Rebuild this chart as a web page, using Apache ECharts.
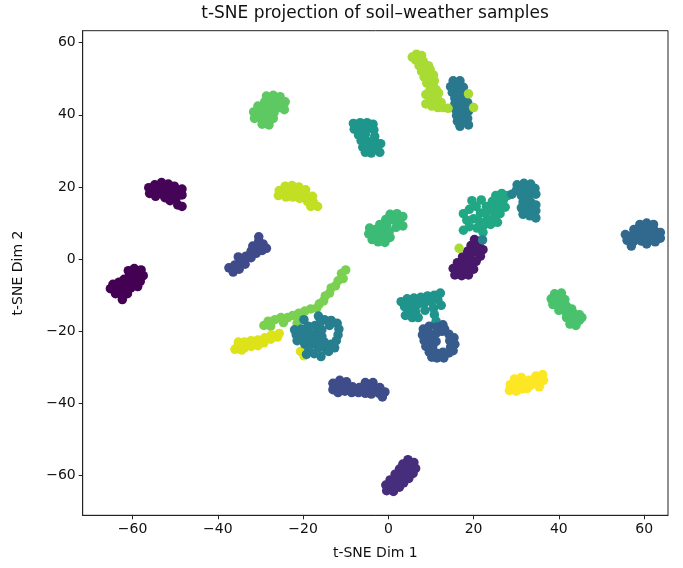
<!DOCTYPE html>
<html>
<head>
<meta charset="utf-8">
<script src="https://cdn.jsdelivr.net/npm/echarts@6/dist/echarts.min.js"></script>
<style>
  html, body { margin: 0; padding: 0; background: #fff; }
  #chart { width: 683px; height: 568px; }
</style>
</head>
<body>
<div id="chart"></div>
<script>
// Tick positions on both embedding axes
const xTicks = [-60, -40, -20, 0, 20, 40, 60];
const yTicks = [-60, -40, -20, 0, 20, 40, 60];

// Embedded sample coordinates, one list per group
const groupA = [[-58.0,-3.0],[-59.6,-2.6],[-61.0,-3.2],[-57.5,-4.6],[-59.2,-4.4],[-60.8,-4.8],[-62.0,-5.6],[-58.2,-6.2],[-59.8,-6.4],[-61.4,-6.8],[-63.2,-6.4],[-64.6,-7.0],[-65.2,-8.2],[-63.8,-8.2],[-62.2,-8.4],[-60.4,-8.0],[-58.8,-7.6],[-64.0,-9.6],[-62.6,-10.0],[-61.2,-9.6],[-62.4,-11.2],[-63.4,-8.8],[-60.0,-5.4]];
const groupB = [[-56.2,19.8],[-56.0,18.2],[-54.8,20.6],[-54.6,19.0],[-54.6,17.4],[-53.2,21.2],[-53.2,19.6],[-53.0,18.0],[-51.6,20.8],[-51.6,19.2],[-51.8,17.6],[-50.2,20.2],[-50.0,18.6],[-48.4,19.4],[-48.4,17.8],[-49.8,16.8],[-51.2,16.2],[-49.4,15.0],[-48.4,14.6],[-52.4,17.0]];
const groupC = [[-37.4,-2.4],[-36.4,-3.6],[-36.0,-1.6],[-35.0,-2.8],[-34.6,-0.6],[-35.2,0.6],[-33.6,-1.4],[-33.4,0.8],[-32.2,0.4],[-32.2,2.2],[-31.0,1.6],[-30.8,3.2],[-29.6,2.4],[-29.4,4.2],[-30.4,5.0],[-28.6,3.0],[-31.8,3.6],[-30.4,6.2]];
const groupD = [[-25.6,19.0],[-25.8,17.6],[-24.2,20.2],[-24.2,18.6],[-24.0,17.2],[-22.6,20.4],[-22.6,18.8],[-22.4,17.2],[-21.0,20.0],[-21.0,18.4],[-20.8,16.8],[-19.4,19.2],[-19.4,17.6],[-19.0,16.0],[-17.8,17.4],[-17.6,15.8],[-16.6,14.6],[-18.2,14.6]];
const groupE = [[-28.6,45.2],[-27.0,45.4],[-25.4,45.0],[-24.2,43.6],[-25.8,43.6],[-27.4,43.8],[-29.0,43.6],[-30.6,42.4],[-29.0,42.0],[-27.4,42.2],[-25.6,42.0],[-24.4,41.4],[-31.6,40.8],[-30.0,40.4],[-28.4,40.6],[-26.8,40.6],[-31.4,39.0],[-29.8,38.8],[-28.2,38.4],[-27.0,39.0],[-29.6,37.4],[-28.0,37.2]];
const groupF = [[-8.2,37.6],[-6.6,37.8],[-5.0,37.8],[-3.6,37.4],[-8.0,36.0],[-6.4,36.0],[-4.8,36.2],[-3.4,35.8],[-7.0,34.4],[-5.4,34.6],[-3.2,34.0],[-6.4,32.8],[-4.8,32.6],[-3.0,32.4],[-1.8,32.0],[-6.0,31.0],[-4.4,30.8],[-2.8,30.6],[-2.0,29.6],[-4.0,29.4],[-5.4,29.6]];
const groupG = [[0.4,12.4],[2.0,12.6],[3.4,11.8],[-0.6,11.0],[1.0,11.0],[2.6,10.4],[3.4,9.2],[-2.0,9.6],[-0.4,9.4],[1.8,8.8],[-4.4,8.6],[-3.0,8.2],[-1.4,7.8],[0.2,7.6],[-4.6,7.0],[-3.2,6.4],[-1.6,6.2],[0.4,6.0],[-2.4,4.8],[-0.8,4.6],[-3.8,5.4]];
const groupH = [[6.6,56.8],[7.8,56.4],[6.4,55.2],[8.2,54.8],[7.2,53.6],[8.6,53.0],[9.2,51.6],[8.4,50.4],[9.8,50.0],[9.0,48.8],[10.4,48.4],[9.8,47.0],[10.6,45.6],[9.8,44.0],[11.0,43.6],[10.2,42.4],[11.6,42.0],[12.8,42.0],[14.0,41.8],[11.4,44.8],
                [5.6,56.0],[7.4,55.0],[9.4,53.6],[9.8,52.6],[7.8,52.0],[10.6,51.0],[10.8,49.4],[11.2,47.0],[8.8,45.6],[11.8,46.0],[8.8,43.0],[12.4,43.4],
                [18.8,45.8],[20.0,42.0],[16.6,3.0]];
const groupI = [[15.2,49.4],[16.8,49.4],[14.6,47.8],[16.2,47.8],[17.6,47.6],[15.0,46.2],[16.8,46.2],[15.6,44.6],[17.4,44.6],[15.6,43.0],[17.2,43.0],[18.6,43.4],[15.8,41.4],[17.4,41.4],[18.8,41.0],[16.0,39.8],[17.6,39.8],[16.2,38.2],[17.8,38.0],[16.8,36.8],[18.6,39.0],[19.2,42.0],[18.8,37.2]];
const groupJ = [[17.6,12.6],[19.0,13.8],[20.6,14.6],[18.4,10.8],[20.0,11.2],[19.0,9.0],[20.8,8.6],[17.6,8.0],[21.6,12.8],[23.0,14.6],[24.4,16.0],[22.8,12.6],[24.4,13.6],[25.8,14.4],[23.2,10.8],[24.8,11.6],[26.2,12.6],[22.4,9.4],[24.0,9.6],[25.6,10.2],[27.0,16.4],[28.0,17.6],[26.6,18.2],[27.4,14.4],[21.4,10.4],[21.8,16.4],[19.6,16.2],[25.2,17.6],[22.2,7.4],[26.4,15.6]];
const groupK = [[30.2,20.6],[31.8,21.0],[33.4,20.8],[34.4,19.6],[30.0,19.0],[31.6,19.2],[33.2,19.0],[34.6,18.0],[31.2,17.6],[32.8,17.4],[31.6,15.8],[33.4,15.8],[34.6,15.0],[31.2,14.2],[32.8,14.0],[34.6,13.4],[31.6,12.4],[33.2,12.0],[34.6,11.4],[29.0,18.0],[22.1,5.3]];
const groupL = [[20.2,5.4],[21.6,5.0],[19.4,3.8],[21.0,3.6],[22.2,2.6],[18.6,2.2],[20.4,2.0],[21.6,0.8],[17.4,0.6],[19.2,0.4],[20.6,-0.6],[16.2,-1.0],[17.8,-1.2],[19.4,-1.4],[15.2,-2.6],[16.8,-2.8],[18.6,-3.0],[20.0,-2.8],[15.6,-4.4],[17.2,-4.6],[18.8,-4.4]];
const groupM = [[59.0,9.6],[60.6,10.0],[62.2,9.6],[57.6,8.2],[59.2,8.2],[60.8,8.4],[62.4,8.0],[63.8,7.4],[55.6,6.8],[57.2,6.6],[58.8,6.6],[60.4,6.6],[62.0,6.4],[63.8,5.8],[56.0,5.2],[57.6,5.0],[59.4,5.0],[61.0,5.0],[62.6,4.8],[57.0,3.6],[60.6,4.2]];
const groupN = [[39.0,-9.6],[40.6,-9.4],[38.2,-11.0],[39.8,-11.0],[41.4,-11.2],[38.6,-12.6],[40.2,-12.6],[41.8,-13.0],[43.0,-13.8],[40.0,-14.2],[41.6,-14.6],[43.4,-15.0],[44.8,-15.4],[41.8,-16.2],[43.2,-16.6],[44.8,-17.0],[42.6,-18.0],[44.0,-18.4],[45.4,-16.2]];
const groupO = [[4.4,-11.0],[6.0,-10.8],[7.6,-10.6],[9.2,-10.2],[10.8,-10.0],[12.2,-9.4],[11.6,-11.2],[10.0,-11.8],[8.4,-12.2],[6.8,-12.6],[5.2,-12.8],[3.8,-13.2],[4.8,-14.6],[6.4,-14.6],[4.0,-15.6],[5.6,-16.2],[7.0,-16.2],[10.6,-13.6],[10.8,-15.4],[11.2,-17.2],[12.4,-12.8],[8.6,-14.2],[3.0,-11.8]];
const groupP = [[8.2,-19.4],[9.6,-18.6],[11.4,-18.8],[13.2,-19.4],[8.0,-21.0],[9.6,-20.6],[11.2,-20.6],[14.2,-20.8],[8.4,-22.6],[10.0,-22.4],[14.4,-22.6],[8.8,-24.2],[10.4,-24.2],[14.6,-24.4],[9.6,-25.8],[11.2,-26.0],[12.8,-25.8],[14.2,-26.0],[11.4,-27.4],[13.0,-27.4],[11.2,-22.8],[12.8,-18.2],[12.6,-20.0],[10.2,-27.2],[9.8,-21.6],[15.4,-21.8],[15.6,-23.6],[15.2,-25.4]];
const groupQ = [[28.4,-36.4],[30.0,-36.6],[31.4,-36.0],[28.6,-34.8],[30.2,-34.8],[31.8,-34.4],[29.6,-33.2],[31.2,-32.8],[33.0,-33.6],[33.4,-35.0],[34.6,-32.4],[36.2,-32.0],[34.8,-34.0],[36.4,-33.6],[35.4,-35.4],[32.6,-35.8]];
const groupR = [[-13.0,-34.4],[-11.4,-33.6],[-11.6,-35.4],[-13.0,-36.2],[-10.0,-35.0],[-10.2,-36.6],[-11.8,-37.0],[-8.4,-35.4],[-8.6,-37.0],[-6.8,-35.6],[-7.0,-37.0],[-5.4,-34.2],[-5.2,-35.8],[-3.6,-34.2],[-3.6,-35.8],[-5.4,-37.2],[-2.0,-35.6],[-2.2,-37.2],[-0.8,-36.8],[-1.4,-38.2],[-9.8,-34.0],[-4.0,-37.4]];
const groupS = [[4.6,-55.6],[6.0,-56.4],[3.4,-56.8],[5.0,-57.4],[6.4,-58.0],[2.6,-58.2],[4.2,-58.8],[5.8,-59.4],[1.6,-59.6],[3.2,-60.2],[4.8,-60.8],[0.4,-61.2],[2.0,-61.6],[3.6,-62.0],[-0.6,-62.6],[1.0,-63.0],[2.6,-63.2],[-0.4,-64.2],[1.2,-64.4]];
const groupT = [[-10.0,-3.0],[-11.0,-4.0],[-10.6,-5.4],[-11.8,-6.0],[-12.4,-7.4],[-13.4,-8.0],[-13.8,-9.4],[-14.8,-10.2],[-15.2,-11.6],[-16.2,-12.4],[-16.8,-13.6],[-18.2,-13.8],[-19.6,-14.4],[-21.0,-15.0],[-20.6,-16.4],[-22.4,-15.6],[-23.6,-16.2],[-25.2,-16.2],[-24.6,-17.6],[-26.6,-16.8],[-28.2,-17.2],[-29.2,-18.4],[-27.6,-18.6],[-21.4,-17.8]];
const groupU = [[-35.4,-24.4],[-35.2,-23.0],[-33.8,-23.0],[-33.8,-24.6],[-32.2,-22.6],[-32.2,-24.2],[-30.6,-22.4],[-30.6,-24.0],[-29.2,-23.2],[-29.0,-21.8],[-27.6,-22.2],[-27.4,-21.0],[-26.0,-21.6],[-25.6,-20.6],[-36.0,-25.0],[-34.4,-25.2],[-20.6,-25.6],[-19.8,-26.8]];
const groupV = [[-16.4,-15.8],[-15.0,-16.8],[-13.4,-17.0],[-12.0,-17.8],[-11.6,-19.4],[-11.8,-21.0],[-12.2,-22.6],[-13.4,-23.6],[-15.0,-23.0],[-15.6,-21.4],[-15.6,-19.6],[-17.2,-18.4],[-18.8,-18.6],[-20.4,-19.4],[-21.6,-21.0],[-20.4,-22.0],[-18.4,-20.6],[-17.2,-21.8],[-21.4,-22.6],[-19.6,-23.6],[-17.8,-23.4],[-16.4,-24.6],[-18.6,-25.0],[-17.4,-26.2],[-15.8,-27.0],[-14.6,-25.0],[-16.0,-17.6],[-13.8,-18.4],[-14.0,-25.6],[-19.8,-16.8],[-22.0,-19.6],[-20.0,-20.6],[-18.8,-22.2],[-16.8,-20.0],[-12.6,-24.6],[-19.2,-26.4],[-16.2,-22.6]];

// Draw order of the groups (later ones paint on top)
const groups = [groupA, groupB, groupC, groupD, groupE, groupF, groupG, groupI, groupJ, groupL, groupK, groupH,
                groupM, groupN, groupO, groupP, groupQ, groupR, groupS, groupT, groupU, groupV];
// Viridis shade for each group, same order as above
const groupColors = ['#440154', '#450457', '#3e4a89', '#c2df23', '#5ec962', '#1f968b', '#3bbb75', '#2a788e', '#22a785', '#48186a', '#26828e', '#a8db34',
                     '#31688e', '#4ac16d', '#1f948c', '#375b8d', '#fde725', '#3e4c8a', '#472e7c', '#7ad151', '#dde318', '#277e8e'];

const FONT = 'DejaVu Sans';
const chart = echarts.init(document.getElementById('chart'), null, { renderer: 'canvas' });

const axisCommon = {
  type: 'value',
  splitLine: { show: false },
  axisLine: { show: true, onZero: false, lineStyle: { color: '#222', width: 1 } },
  axisTick: { show: true, inside: false, length: 4, lineStyle: { color: '#222', width: 1 } },
  nameLocation: 'middle',
  nameTextStyle: { fontFamily: FONT, fontSize: 14, color: '#111' }
};

const minusFormat = v => (v < 0 ? '\u2212' + Math.abs(v) : String(v));

chart.setOption({
  animation: false,
  backgroundColor: '#fff',
  graphic: [{
    type: 'text',
    x: 375, y: 14,
    style: {
      text: 't-SNE projection of soil–weather samples',
      align: 'center', verticalAlign: 'middle',
      fontFamily: FONT, fontSize: 17, fill: '#111'
    }
  }],
  grid: {
    left: 82.7, right: 15, top: 30.7, bottom: 52.7,
    show: true, borderColor: '#222', borderWidth: 1, backgroundColor: 'transparent'
  },
  xAxis: Object.assign({}, axisCommon, {
    min: -71.7, max: 65.6,
    name: 't-SNE Dim 1', nameGap: 31,
    axisTick: Object.assign({}, axisCommon.axisTick, { customValues: xTicks }),
    axisLabel: { customValues: xTicks, fontFamily: FONT, fontSize: 14, color: '#111', margin: 7, formatter: minusFormat }
  }),
  yAxis: Object.assign({}, axisCommon, {
    min: -71.0, max: 63.3,
    name: 't-SNE Dim 2', nameGap: 57,
    axisTick: Object.assign({}, axisCommon.axisTick, { customValues: yTicks }),
    axisLabel: { customValues: yTicks, fontFamily: FONT, fontSize: 14, color: '#111', margin: 7, formatter: minusFormat }
  }),
  series: groups.map((pts, i) => ({
    type: 'scatter',
    data: pts,
    symbol: 'circle',
    symbolSize: 9.5,
    itemStyle: { color: groupColors[i], opacity: 1 },
    emphasis: { disabled: true }
  }))
});
</script>
</body>
</html>
